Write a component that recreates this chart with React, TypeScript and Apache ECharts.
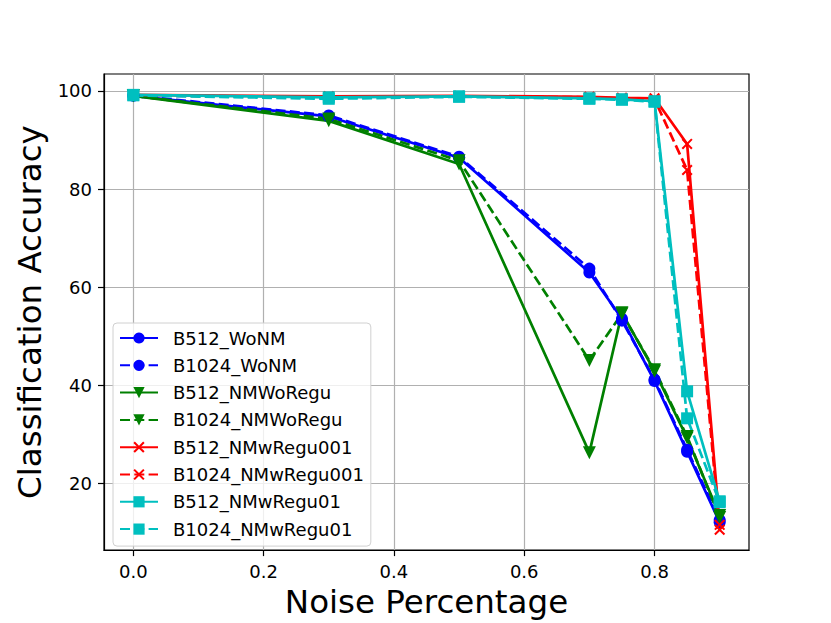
import React, { useEffect, useRef } from "react";
import * as echarts from "echarts";

const noiseLevels = [0, 0.3, 0.5, 0.7, 0.75, 0.8, 0.85, 0.9];
const xTicks = [0, 0.2, 0.4, 0.6, 0.8];
const yTicks = [20, 40, 60, 80, 100];

const B512_WoNM = [99.0, 94.8, 86.4, 63.0, 53.6, 40.9, 26.5, 12.1];
const B1024_WoNM = [99.1, 95.0, 86.6, 63.8, 53.2, 41.2, 26.9, 12.6];
const B512_NMWoRegu = [99.0, 93.9, 85.1, 26.3, 54.8, 42.9, 29.3, 13.5];
const B1024_NMWoRegu = [99.0, 94.3, 85.8, 45.1, 54.6, 43.2, 29.6, 13.1];
const B512_NMwRegu001 = [99.2, 98.9, 99.0, 98.8, 98.6, 98.5, 89.2, 11.6];
const B1024_NMwRegu001 = [99.1, 98.7, 98.9, 98.7, 98.5, 98.3, 83.9, 10.6];
const B512_NMwRegu01 = [99.2, 98.7, 98.9, 98.5, 98.3, 97.9, 38.8, 16.4];
const B1024_NMwRegu01 = [99.1, 98.4, 98.8, 98.4, 98.2, 97.8, 33.3, 16.2];

const FONT = "DejaVu Sans";
const X_PATH =
  "path://M0,1.3 L1.3,0 L5,3.7 L8.7,0 L10,1.3 L6.3,5 L10,8.7 L8.7,10 L5,6.3 L1.3,10 L0,8.7 L3.7,5 Z";

type Def = { name: string; values: number[]; color: string; dashed: boolean; symbol: string; rotate?: number; size: number };

const defs: Def[] = [
  { name: "B512_WoNM", values: B512_WoNM, color: "#0000ff", dashed: false, symbol: "circle", size: 12 },
  { name: "B1024_WoNM", values: B1024_WoNM, color: "#0000ff", dashed: true, symbol: "circle", size: 12 },
  { name: "B512_NMWoRegu", values: B512_NMWoRegu, color: "#008000", dashed: false, symbol: "triangle", rotate: 180, size: 13 },
  { name: "B1024_NMWoRegu", values: B1024_NMWoRegu, color: "#008000", dashed: true, symbol: "triangle", rotate: 180, size: 13 },
  { name: "B512_NMwRegu001", values: B512_NMwRegu001, color: "#ff0000", dashed: false, symbol: X_PATH, size: 11 },
  { name: "B1024_NMwRegu001", values: B1024_NMwRegu001, color: "#ff0000", dashed: true, symbol: X_PATH, size: 11 },
  { name: "B512_NMwRegu01", values: B512_NMwRegu01, color: "#00bfbf", dashed: false, symbol: "rect", size: 12 },
  { name: "B1024_NMwRegu01", values: B1024_NMwRegu01, color: "#00bfbf", dashed: true, symbol: "rect", size: 12 },
];

export default function App() {
  const ref = useRef<HTMLDivElement>(null);
  useEffect(() => {
    if (!ref.current) return;
    const chart = echarts.init(ref.current, null, { renderer: "svg" });
    chart.setOption({
      animation: false,
      backgroundColor: "#ffffff",
      textStyle: { fontFamily: FONT },
      grid: {
        left: 104,
        top: 74,
        width: 645,
        height: 480,
        show: true,
        borderColor: "#000000",
        borderWidth: 1.2,
        backgroundColor: "transparent",
      },
      legend: {
        orient: "vertical",
        left: 113,
        top: 323,
        padding: [6, 7, 8, 6],
        itemWidth: 38,
        itemHeight: 14,
        itemGap: 9.3,
        backgroundColor: "rgba(255,255,255,0.8)",
        borderColor: "#d0d0d0",
        borderWidth: 1,
        borderRadius: 4,
        textStyle: { fontFamily: FONT, fontSize: 18, color: "#000000", padding: [0, 0, 0, 10], lineHeight: 16 },
        data: defs.map((d) => d.name),
      },
      xAxis: {
        type: "value",
        min: -0.045,
        max: 0.945,
        name: "Noise Percentage",
        nameLocation: "middle",
        nameGap: 33,
        nameTextStyle: { fontFamily: FONT, fontSize: 32.5, color: "#000000" },
        axisLine: { show: true, onZero: false, lineStyle: { color: "#000000", width: 1.2 } },
        axisTick: { show: true, inside: false, length: 6, lineStyle: { color: "#000000", width: 1.2 }, customValues: xTicks },
        axisLabel: {
          customValues: xTicks,
          margin: 12,
          fontFamily: FONT,
          fontSize: 18,
          color: "#000000",
          formatter: (v: number) => v.toFixed(1),
        },
        splitLine: { show: true, lineStyle: { color: "#b0b0b0", width: 1.2 } },
      },
      yAxis: {
        type: "value",
        min: 6.45,
        max: 103.45,
        name: "Classification Accuracy",
        nameLocation: "middle",
        nameGap: 58,
        nameTextStyle: { fontFamily: FONT, fontSize: 32.5, color: "#000000" },
        axisLine: { show: true, onZero: false, lineStyle: { color: "#000000", width: 1.2 } },
        axisTick: { show: true, inside: false, length: 6, lineStyle: { color: "#000000", width: 1.2 }, customValues: yTicks },
        axisLabel: {
          customValues: yTicks,
          margin: 12,
          fontFamily: FONT,
          fontSize: 18,
          color: "#000000",
          formatter: (v: number) => String(Math.round(v)),
        },
        splitLine: { show: true, lineStyle: { color: "#b0b0b0", width: 1.2 } },
      },
      series: defs.map((d) => ({
        name: d.name,
        type: "line",
        data: noiseLevels.map((x, i) => [x, d.values[i]]),
        symbol: d.symbol,
        symbolSize: d.size,
        symbolRotate: d.rotate || 0,
        showAllSymbol: true,
        color: d.color,
        itemStyle: { color: d.color, borderWidth: 0 },
        lineStyle: { color: d.color, width: 2.7, type: d.dashed ? [10, 4.3] : "solid" },
        emphasis: { disabled: true },
      })),
    });
    return () => chart.dispose();
  }, []);
  return <div ref={ref} style={{ position: "absolute", left: 0, top: 0, width: 831, height: 623 }} />;
}
